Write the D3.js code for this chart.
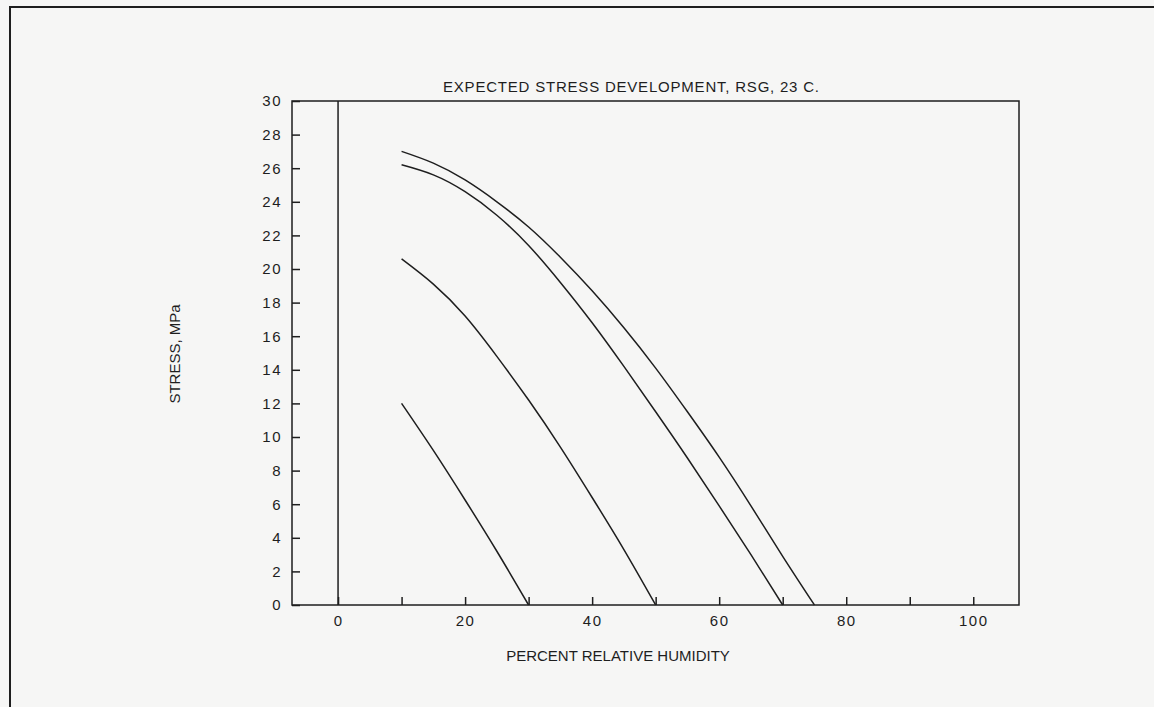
<!DOCTYPE html>
<html>
<head>
<meta charset="utf-8">
<script src="https://cdn.jsdelivr.net/npm/d3@7"></script>
<style>
  html, body { margin: 0; padding: 0; background: #f6f6f5; }
  svg { display: block; }
  text { font-family: "Liberation Sans", Arial, sans-serif; fill: #1e1e1e; }
</style>
</head>
<body>
<svg id="chart" width="1154" height="707"></svg>
<script>
// ---- data ----
const title = "EXPECTED STRESS DEVELOPMENT, RSG, 23 C.";
const xLabel = "PERCENT RELATIVE HUMIDITY";
const yLabel = "STRESS, MPa";
const xTicks = [0, 10, 20, 30, 40, 50, 60, 70, 80, 90, 100];
const xTickLabels = [0, 20, 40, 60, 80, 100];
const yTicks = [0, 2, 4, 6, 8, 10, 12, 14, 16, 18, 20, 22, 24, 26, 28, 30];

// each curve: humidity (%) and stress (MPa)
const curve1Humidity = [10, 15, 20, 25, 30, 35, 40, 45, 50, 55, 60, 65, 70, 75];
const curve1Stress   = [27.0, 26.3, 25.3, 24.0, 22.5, 20.7, 18.7, 16.5, 14.1, 11.5, 8.8, 5.9, 2.9, 0];
const curve2Humidity = [10, 15, 20, 25, 30, 35, 40, 45, 50, 55, 60, 65, 70];
const curve2Stress   = [26.2, 25.6, 24.6, 23.2, 21.4, 19.2, 16.8, 14.2, 11.5, 8.75, 5.9, 3.0, 0];
const curve3Humidity = [10, 15, 20, 25, 30, 35, 40, 45, 50];
const curve3Stress   = [20.6, 19.1, 17.2, 14.8, 12.2, 9.4, 6.4, 3.3, 0];
const curve4Humidity = [10, 15, 20, 25, 30];
const curve4Stress   = [12.0, 9.2, 6.25, 3.2, 0];

const curves = [
  [curve1Humidity, curve1Stress],
  [curve2Humidity, curve2Stress],
  [curve3Humidity, curve3Stress],
  [curve4Humidity, curve4Stress]
];

// ---- layout ----
const svg = d3.select("#chart");
const mLeft = 292, mRight = 1019, mTop = 101, mBottom = 605;
const x = d3.scaleLinear().domain([-7.25, 107.2]).range([mLeft, mRight]);
const y = d3.scaleLinear().domain([0, 30]).range([mBottom, mTop]);
const ink = "#1e1e1e";
const font = "Liberation Sans, Arial, sans-serif";

// page frame (scan edge)
svg.append("path")
  .attr("d", `M10,707 L10,7 L1154,7`)
  .attr("fill", "none").attr("stroke", ink).attr("stroke-width", 2);

// plot box
svg.append("rect")
  .attr("x", mLeft).attr("y", mTop)
  .attr("width", mRight - mLeft).attr("height", mBottom - mTop)
  .attr("fill", "none").attr("stroke", ink).attr("stroke-width", 1.5);

// zero humidity line
svg.append("line")
  .attr("x1", x(0)).attr("x2", x(0)).attr("y1", y(0)).attr("y2", y(30))
  .attr("stroke", ink).attr("stroke-width", 1.5);

// x axis (ticks inward)
const xAxis = d3.axisBottom(x).tickValues(xTicks).tickSize(-8).tickPadding(10)
  .tickFormat(d => xTickLabels.includes(d) ? d : "");
const gx = svg.append("g").attr("transform", `translate(0,${mBottom})`).call(xAxis);
gx.select(".domain").remove();
gx.selectAll(".tick line").attr("stroke", ink).attr("stroke-width", 1.5);
gx.selectAll(".tick text").attr("font-size", 15).attr("font-family", font)
  .attr("letter-spacing", 1.5).attr("fill", ink);

// y axis (ticks inward)
const yAxis = d3.axisLeft(y).tickValues(yTicks).tickSize(-8).tickPadding(10);
const gy = svg.append("g").attr("transform", `translate(${mLeft},0)`).call(yAxis);
gy.select(".domain").remove();
gy.selectAll(".tick line").attr("stroke", ink).attr("stroke-width", 1.5);
gy.selectAll(".tick text").attr("font-size", 15).attr("font-family", font)
  .attr("letter-spacing", 1.5).attr("fill", ink);

// curves
const line = d3.line().x(d => x(d[0])).y(d => y(d[1])).curve(d3.curveNatural);
curves.forEach(([hs, ss]) => {
  svg.append("path")
    .datum(hs.map((h, i) => [h, ss[i]]))
    .attr("d", line)
    .attr("fill", "none").attr("stroke", ink).attr("stroke-width", 1.5);
});

// texts
svg.append("text").attr("x", 631).attr("y", 92).attr("text-anchor", "middle")
  .attr("font-size", 15).attr("textLength", 376).attr("lengthAdjust", "spacing")
  .text(title);
svg.append("text").attr("x", 618).attr("y", 661).attr("text-anchor", "middle")
  .attr("font-size", 15).text(xLabel);
svg.append("text").attr("transform", `translate(180,354) rotate(-90)`)
  .attr("text-anchor", "middle").attr("font-size", 15).text(yLabel);
</script>
</body>
</html>
